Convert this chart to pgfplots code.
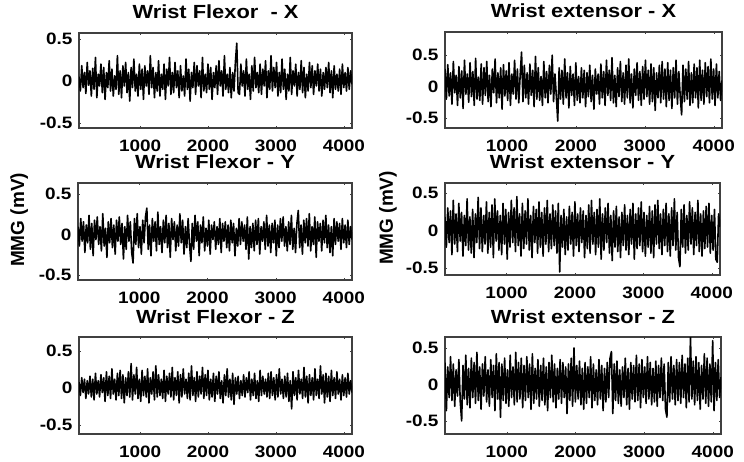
\documentclass[border=0pt]{standalone}
\usepackage{fontspec}
\setmainfont{Liberation Sans}[FakeStretch=1.15]
\newfontfamily\lblfont{Liberation Sans}
\usepackage{pgfplots}
\pgfplotsset{compat=1.18}

\pgfplotsset{mmg/.style={
    scale only axis, width=273pt, height=95pt, anchor=south west,
    xmin=100, xmax=4120,
    xtick={1000,2000,3000,4000}, xticklabels={1000,2000,3000,4000},
    ytick={-0.5,0,0.5}, yticklabels={-0.5,0,0.5},
    axis line style={black!75, line width=1.1pt},
    tick style={black!75}, major tick length=2pt, tick align=inside,
    ticklabel style={font=\bfseries\fontsize{16.5}{18}\selectfont},
    xticklabel style={yshift=-8pt},
    yticklabel style={xshift=-3pt},
    title style={font=\bfseries\fontsize{19}{21}\selectfont, anchor=base, at={(0.5,1)}, yshift=8pt},
    ylabel style={anchor=center, font=\lblfont\bfseries\fontsize{19}{21}\selectfont},
}, sigline/.style={draw=black, line width=1.6pt, line join=round, no marks}}
\pgfkeys{/pgfplots/table/sig/.style={x expr=\coordindex*20.2+100, y=y, row sep=\\}}

\begin{document}
\begin{tikzpicture}
\useasboundingbox (0,0) rectangle (744pt,461pt);

% flexor X
\begin{axis}[mmg, at={(79pt,333pt)}, ymin=-0.56, ymax=0.57, title={Wrist Flexor~ - X}]
\addplot[sigline] table[sig] {y\\
0.05\\ -0.12\\ 0.18\\ -0.08\\ 0.10\\ -0.15\\ 0.22\\ -0.05\\ 0.12\\ -0.18\\
0.15\\ -0.10\\ 0.28\\ -0.20\\ 0.08\\ -0.06\\ 0.20\\ -0.14\\ 0.16\\ -0.22\\
0.10\\ -0.08\\ 0.24\\ -0.12\\ 0.14\\ -0.18\\ 0.06\\ -0.10\\ 0.30\\ -0.16\\
0.12\\ -0.20\\ 0.18\\ -0.06\\ 0.22\\ -0.14\\ 0.10\\ -0.24\\ 0.16\\ -0.08\\
0.26\\ -0.12\\ 0.08\\ -0.18\\ 0.20\\ -0.10\\ 0.14\\ -0.22\\ 0.18\\ -0.06\\
0.12\\ -0.16\\ 0.30\\ -0.08\\ 0.16\\ -0.20\\ 0.10\\ -0.12\\ 0.24\\ -0.18\\
0.08\\ -0.10\\ 0.20\\ -0.22\\ 0.14\\ -0.06\\ 0.28\\ -0.16\\ 0.10\\ -0.14\\
0.22\\ -0.08\\ 0.12\\ -0.20\\ 0.18\\ -0.12\\ 0.06\\ -0.18\\ 0.26\\ -0.10\\
0.14\\ -0.24\\ 0.10\\ -0.08\\ 0.22\\ -0.16\\ 0.18\\ -0.06\\ 0.12\\ -0.20\\
0.28\\ -0.12\\ 0.08\\ -0.14\\ 0.20\\ -0.10\\ 0.16\\ -0.22\\ 0.10\\ -0.08\\
0.18\\ -0.16\\ 0.24\\ -0.06\\ 0.12\\ -0.18\\ 0.30\\ -0.10\\ 0.08\\ -0.14\\
0.16\\ -0.20\\ 0.10\\ -0.12\\ 0.22\\ 0.45\\ -0.14\\ -0.16\\ 0.20\\ -0.06\\
0.12\\ -0.18\\ 0.26\\ -0.10\\ 0.08\\ -0.22\\ 0.18\\ -0.12\\ 0.28\\ -0.08\\
0.10\\ -0.14\\ 0.20\\ -0.16\\ 0.14\\ -0.06\\ 0.24\\ -0.20\\ 0.12\\ -0.10\\
0.30\\ -0.12\\ 0.16\\ -0.08\\ 0.22\\ -0.18\\ 0.10\\ -0.14\\ 0.26\\ -0.10\\
0.14\\ -0.22\\ 0.08\\ -0.12\\ 0.28\\ -0.16\\ 0.12\\ -0.06\\ 0.20\\ -0.18\\
0.10\\ -0.10\\ 0.24\\ -0.14\\ 0.16\\ -0.20\\ 0.08\\ -0.12\\ 0.22\\ -0.08\\
0.18\\ -0.16\\ 0.12\\ -0.06\\ 0.20\\ -0.12\\ 0.14\\ -0.18\\ 0.10\\ -0.10\\
0.16\\ -0.08\\ 0.22\\ -0.14\\ 0.12\\ -0.20\\ 0.18\\ -0.10\\ 0.08\\ -0.12\\
0.14\\ -0.16\\ 0.20\\ -0.08\\ 0.10\\ -0.12\\ 0.16\\ -0.10\\ 0.12\\ -0.04\\
};
\end{axis}

% extensor X
\begin{axis}[mmg, at={(445pt,333pt)}, width=277pt, height=96pt, ymin=-0.66, ymax=0.87, title={Wrist extensor - X}]
\addplot[sigline] table[sig] {y\\
0.28\\ -0.20\\ 0.35\\ -0.15\\ 0.22\\ -0.28\\ 0.40\\ -0.10\\ 0.18\\ -0.30\\
0.32\\ -0.18\\ 0.25\\ -0.35\\ 0.42\\ -0.12\\ 0.20\\ -0.25\\ 0.38\\ -0.16\\
0.24\\ -0.30\\ 0.45\\ -0.20\\ 0.15\\ -0.22\\ 0.36\\ -0.28\\ 0.30\\ -0.14\\
0.40\\ -0.24\\ 0.18\\ -0.32\\ 0.28\\ -0.10\\ 0.44\\ -0.26\\ 0.22\\ -0.18\\
0.30\\ -0.36\\ 0.35\\ -0.15\\ 0.25\\ -0.22\\ 0.38\\ -0.30\\ 0.20\\ -0.12\\
0.42\\ -0.20\\ 0.28\\ -0.26\\ 0.18\\ 0.55\\ -0.24\\ 0.34\\ -0.18\\ 0.22\\
-0.28\\ 0.36\\ -0.14\\ 0.26\\ -0.32\\ 0.48\\ -0.20\\ 0.30\\ -0.22\\ 0.16\\
-0.30\\ 0.40\\ -0.18\\ 0.24\\ -0.26\\ 0.34\\ -0.12\\ 0.50\\ -0.24\\ 0.20\\
-0.16\\ -0.55\\ 0.30\\ -0.20\\ 0.26\\ -0.28\\ 0.44\\ -0.18\\ 0.22\\ -0.34\\
0.32\\ -0.14\\ 0.20\\ -0.30\\ 0.38\\ -0.22\\ 0.16\\ -0.26\\ 0.30\\ -0.18\\
0.26\\ -0.32\\ 0.22\\ -0.16\\ 0.34\\ -0.24\\ 0.18\\ -0.36\\ 0.28\\ -0.12\\
0.20\\ -0.28\\ 0.36\\ -0.18\\ 0.24\\ -0.30\\ 0.42\\ -0.14\\ 0.26\\ -0.22\\
0.46\\ -0.26\\ 0.18\\ -0.32\\ 0.30\\ -0.16\\ 0.40\\ -0.24\\ 0.22\\ -0.28\\
0.34\\ -0.18\\ 0.44\\ -0.26\\ 0.20\\ -0.34\\ 0.28\\ -0.14\\ 0.38\\ -0.22\\
0.24\\ -0.30\\ 0.32\\ -0.20\\ 0.42\\ -0.16\\ 0.26\\ -0.28\\ 0.36\\ -0.24\\
0.30\\ -0.38\\ 0.22\\ -0.18\\ 0.34\\ -0.26\\ 0.40\\ -0.20\\ 0.28\\ -0.32\\
0.38\\ -0.22\\ 0.26\\ -0.35\\ 0.30\\ -0.18\\ 0.42\\ -0.28\\ 0.24\\ -0.16\\
-0.45\\ 0.34\\ -0.24\\ 0.28\\ -0.20\\ 0.40\\ -0.30\\ 0.22\\ -0.26\\ 0.36\\
-0.18\\ 0.30\\ -0.34\\ 0.42\\ -0.22\\ 0.26\\ -0.28\\ 0.38\\ -0.16\\ 0.32\\
-0.26\\ 0.44\\ -0.20\\ 0.28\\ -0.30\\ 0.36\\ -0.18\\ 0.24\\ -0.22\\ 0.10\\
};
\end{axis}

% flexor Y
\begin{axis}[mmg, at={(78pt,181pt)}, width=274pt, height=97pt, ymin=-0.56, ymax=0.64, title={Wrist Flexor - Y},
  ylabel={MMG (mV)}, ylabel style={at={(axis description cs:-0.215,0.62)}}]
\addplot[sigline] table[sig] {y\\
0.10\\ -0.14\\ 0.20\\ -0.08\\ 0.16\\ -0.22\\ 0.12\\ -0.10\\ 0.24\\ -0.18\\
0.14\\ -0.26\\ 0.18\\ -0.06\\ 0.22\\ -0.12\\ 0.10\\ -0.20\\ 0.26\\ -0.14\\
0.08\\ -0.28\\ 0.16\\ -0.10\\ 0.20\\ -0.16\\ 0.12\\ -0.24\\ 0.18\\ -0.08\\
0.22\\ -0.12\\ 0.14\\ -0.30\\ 0.10\\ -0.18\\ 0.24\\ -0.08\\ 0.16\\ -0.22\\
-0.35\\ 0.20\\ -0.12\\ 0.26\\ -0.16\\ 0.10\\ -0.24\\ 0.18\\ -0.10\\ 0.22\\
0.33\\ -0.18\\ 0.12\\ -0.26\\ 0.20\\ -0.08\\ 0.16\\ -0.20\\ 0.28\\ -0.12\\
0.10\\ -0.22\\ 0.18\\ -0.10\\ 0.24\\ -0.16\\ 0.14\\ -0.28\\ 0.20\\ -0.06\\
0.16\\ -0.20\\ 0.12\\ -0.14\\ 0.26\\ -0.10\\ 0.18\\ -0.24\\ 0.10\\ -0.16\\
0.20\\ -0.12\\ -0.33\\ 0.14\\ -0.18\\ 0.24\\ -0.08\\ 0.16\\ -0.26\\ 0.12\\
-0.10\\ 0.22\\ -0.20\\ 0.08\\ -0.14\\ 0.18\\ -0.24\\ 0.12\\ -0.06\\ 0.16\\
-0.18\\ 0.10\\ -0.12\\ 0.20\\ -0.22\\ 0.14\\ -0.08\\ 0.16\\ -0.16\\ 0.12\\
-0.20\\ 0.18\\ -0.10\\ 0.14\\ -0.26\\ 0.08\\ -0.14\\ 0.20\\ -0.12\\ 0.16\\
-0.08\\ 0.12\\ -0.18\\ 0.22\\ -0.30\\ 0.10\\ -0.16\\ 0.14\\ -0.20\\ 0.18\\
-0.12\\ 0.20\\ -0.24\\ 0.10\\ -0.08\\ 0.16\\ -0.18\\ 0.24\\ -0.14\\ 0.12\\
-0.22\\ 0.14\\ -0.10\\ 0.18\\ -0.26\\ 0.12\\ -0.16\\ 0.20\\ -0.08\\ 0.22\\
-0.14\\ 0.10\\ -0.20\\ 0.16\\ -0.12\\ 0.24\\ -0.18\\ 0.08\\ -0.22\\ 0.14\\
0.30\\ -0.16\\ 0.12\\ -0.24\\ 0.18\\ -0.10\\ 0.20\\ -0.14\\ 0.26\\ -0.20\\
0.10\\ -0.12\\ 0.22\\ -0.28\\ 0.16\\ -0.08\\ 0.14\\ -0.20\\ 0.18\\ -0.10\\
0.24\\ -0.16\\ 0.12\\ -0.22\\ 0.10\\ -0.26\\ 0.20\\ -0.12\\ 0.16\\ -0.08\\
0.14\\ -0.18\\ 0.20\\ -0.10\\ 0.12\\ -0.16\\ 0.18\\ -0.12\\ 0.10\\ -0.06\\
};
\end{axis}

% extensor Y
\begin{axis}[mmg, at={(445pt,186pt)}, width=275pt, height=92pt, ymin=-0.59, ymax=0.63, title={Wrist extensor - Y},
  ylabel={MMG (mV)}, ylabel style={at={(axis description cs:-0.207,0.62)}}]
\addplot[sigline] table[sig] {y\\
0.18\\ -0.22\\ 0.30\\ -0.16\\ 0.26\\ -0.32\\ 0.40\\ -0.18\\ 0.22\\ -0.28\\
0.36\\ -0.14\\ 0.24\\ -0.34\\ 0.20\\ -0.20\\ 0.42\\ -0.26\\ 0.18\\ -0.30\\
0.28\\ -0.36\\ 0.22\\ -0.16\\ 0.44\\ -0.24\\ 0.30\\ -0.28\\ 0.20\\ -0.18\\
0.38\\ -0.30\\ 0.24\\ -0.22\\ 0.34\\ -0.36\\ 0.42\\ -0.14\\ 0.26\\ -0.26\\
0.20\\ -0.32\\ 0.36\\ -0.18\\ 0.28\\ -0.38\\ 0.24\\ -0.22\\ 0.40\\ -0.16\\
0.30\\ -0.28\\ 0.45\\ -0.20\\ 0.22\\ -0.34\\ 0.36\\ -0.24\\ 0.26\\ -0.18\\
0.42\\ -0.26\\ 0.20\\ -0.36\\ 0.32\\ -0.16\\ 0.28\\ -0.30\\ 0.38\\ -0.22\\
0.24\\ -0.34\\ 0.30\\ -0.18\\ 0.40\\ -0.28\\ 0.22\\ -0.24\\ 0.34\\ -0.20\\
0.26\\ -0.30\\ 0.36\\ -0.55\\ 0.20\\ -0.22\\ 0.28\\ -0.32\\ 0.18\\ -0.26\\
0.32\\ -0.18\\ 0.24\\ -0.34\\ 0.38\\ -0.20\\ 0.22\\ -0.28\\ 0.30\\ -0.16\\
0.26\\ -0.36\\ 0.20\\ -0.24\\ 0.34\\ -0.30\\ 0.40\\ -0.18\\ 0.24\\ -0.32\\
0.28\\ -0.22\\ 0.42\\ -0.38\\ 0.22\\ -0.26\\ 0.30\\ -0.16\\ 0.36\\ -0.30\\
0.20\\ -0.40\\ 0.26\\ -0.22\\ 0.32\\ -0.28\\ 0.18\\ -0.36\\ 0.24\\ -0.20\\
0.34\\ -0.26\\ 0.20\\ -0.32\\ 0.28\\ -0.18\\ 0.36\\ -0.38\\ 0.22\\ -0.24\\
0.30\\ -0.20\\ 0.38\\ -0.28\\ 0.24\\ -0.34\\ 0.20\\ -0.22\\ 0.32\\ -0.30\\
0.26\\ -0.36\\ 0.34\\ -0.18\\ 0.40\\ -0.24\\ 0.22\\ -0.32\\ 0.28\\ -0.20\\
0.36\\ -0.28\\ 0.22\\ -0.34\\ 0.30\\ -0.20\\ 0.42\\ -0.26\\ 0.24\\ -0.36\\
-0.48\\ 0.28\\ -0.22\\ 0.34\\ -0.30\\ 0.20\\ -0.26\\ 0.38\\ -0.18\\ 0.30\\
-0.32\\ 0.24\\ -0.20\\ 0.40\\ -0.28\\ 0.22\\ -0.34\\ 0.26\\ -0.24\\ 0.32\\
-0.22\\ 0.36\\ -0.30\\ 0.20\\ -0.26\\ 0.28\\ -0.38\\ -0.42\\ 0.22\\ 0.05\\
};
\end{axis}

% flexor Z
\begin{axis}[mmg, at={(79pt,27pt)}, height=97pt, ymin=-0.62, ymax=0.69, title={Wrist Flexor - Z}]
\addplot[sigline] table[sig] {y\\
0.08\\ -0.10\\ 0.14\\ -0.06\\ 0.12\\ -0.14\\ 0.10\\ -0.08\\ 0.16\\ -0.12\\
0.12\\ -0.16\\ 0.20\\ -0.08\\ 0.10\\ -0.12\\ 0.18\\ -0.06\\ 0.14\\ -0.18\\
0.22\\ -0.10\\ 0.16\\ -0.14\\ 0.26\\ -0.08\\ 0.12\\ -0.16\\ 0.20\\ -0.10\\
0.24\\ -0.14\\ 0.18\\ -0.20\\ 0.14\\ -0.10\\ 0.22\\ -0.12\\ 0.33\\ -0.16\\
0.18\\ -0.08\\ 0.28\\ -0.14\\ 0.12\\ -0.18\\ 0.24\\ -0.10\\ 0.16\\ -0.12\\
0.26\\ -0.20\\ 0.14\\ -0.08\\ 0.22\\ -0.16\\ 0.30\\ -0.12\\ 0.18\\ -0.10\\
0.12\\ -0.14\\ 0.24\\ -0.18\\ 0.16\\ -0.08\\ 0.20\\ -0.12\\ 0.28\\ -0.16\\
0.14\\ -0.10\\ 0.22\\ -0.20\\ 0.18\\ -0.12\\ 0.26\\ -0.08\\ 0.12\\ -0.14\\
0.20\\ -0.16\\ 0.30\\ -0.10\\ 0.14\\ -0.18\\ 0.22\\ -0.12\\ 0.16\\ -0.08\\
0.28\\ -0.14\\ 0.18\\ -0.10\\ 0.24\\ -0.16\\ 0.12\\ -0.12\\ 0.20\\ -0.18\\
0.16\\ -0.08\\ 0.22\\ -0.14\\ 0.10\\ -0.20\\ 0.18\\ -0.10\\ 0.26\\ -0.12\\
0.12\\ -0.16\\ 0.20\\ -0.22\\ 0.14\\ -0.08\\ 0.16\\ -0.14\\ 0.10\\ -0.10\\
0.18\\ -0.12\\ 0.14\\ -0.06\\ 0.22\\ -0.16\\ 0.12\\ -0.10\\ 0.20\\ -0.14\\
0.10\\ -0.18\\ 0.24\\ -0.10\\ 0.16\\ -0.08\\ 0.12\\ -0.12\\ 0.20\\ -0.14\\
0.22\\ -0.10\\ 0.14\\ -0.16\\ 0.18\\ -0.12\\ 0.26\\ -0.08\\ 0.12\\ -0.14\\
0.16\\ -0.12\\ 0.20\\ -0.18\\ 0.10\\ -0.28\\ 0.22\\ -0.10\\ 0.14\\ -0.16\\
0.24\\ -0.08\\ 0.12\\ -0.14\\ 0.28\\ -0.12\\ 0.16\\ -0.20\\ 0.18\\ -0.10\\
0.14\\ -0.16\\ 0.26\\ -0.10\\ 0.12\\ -0.14\\ 0.30\\ -0.08\\ 0.18\\ -0.20\\
0.20\\ -0.12\\ 0.16\\ -0.18\\ 0.24\\ -0.10\\ 0.14\\ -0.14\\ 0.22\\ -0.08\\
0.12\\ -0.16\\ 0.18\\ -0.10\\ 0.14\\ -0.12\\ 0.20\\ -0.08\\ 0.10\\ -0.06\\
};
\end{axis}

% extensor Z
\begin{axis}[mmg, at={(445pt,27pt)}, width=276pt, height=97pt, ymin=-0.68, ymax=0.65, title={Wrist extensor - Z}]
\addplot[sigline] table[sig] {y\\
0.30\\ -0.36\\ 0.24\\ -0.18\\ 0.38\\ -0.22\\ 0.28\\ -0.30\\ 0.20\\ -0.16\\
0.34\\ -0.24\\ -0.50\\ 0.26\\ -0.20\\ 0.40\\ -0.28\\ 0.22\\ -0.32\\ 0.36\\
-0.18\\ 0.30\\ -0.26\\ 0.44\\ -0.22\\ 0.24\\ -0.34\\ 0.28\\ -0.16\\ 0.38\\
-0.24\\ 0.20\\ -0.30\\ 0.34\\ -0.18\\ 0.26\\ -0.36\\ 0.42\\ -0.20\\ 0.30\\
-0.45\\ 0.28\\ -0.22\\ 0.36\\ -0.26\\ 0.20\\ -0.30\\ 0.40\\ -0.18\\ 0.24\\
-0.28\\ 0.44\\ -0.24\\ 0.30\\ -0.20\\ 0.36\\ -0.32\\ 0.26\\ -0.22\\ 0.38\\
-0.18\\ 0.28\\ -0.34\\ 0.42\\ -0.26\\ 0.22\\ -0.20\\ 0.34\\ -0.30\\ 0.26\\
-0.22\\ 0.36\\ -0.28\\ 0.24\\ -0.36\\ 0.30\\ -0.18\\ 0.40\\ -0.24\\ 0.28\\
-0.32\\ 0.22\\ -0.20\\ 0.34\\ -0.26\\ 0.30\\ -0.18\\ 0.24\\ -0.40\\ 0.28\\
-0.22\\ 0.36\\ -0.30\\ 0.50\\ -0.24\\ 0.26\\ -0.20\\ 0.32\\ -0.28\\ 0.22\\
-0.34\\ 0.30\\ -0.26\\ 0.24\\ -0.18\\ 0.38\\ -0.32\\ 0.28\\ -0.22\\ 0.20\\
-0.28\\ 0.34\\ -0.20\\ 0.26\\ -0.36\\ 0.22\\ -0.24\\ 0.30\\ -0.18\\ 0.36\\
0.45\\ -0.40\\ 0.28\\ -0.22\\ 0.32\\ -0.26\\ 0.20\\ -0.30\\ 0.24\\ -0.18\\
0.36\\ -0.28\\ 0.22\\ -0.34\\ 0.30\\ -0.20\\ 0.26\\ -0.24\\ 0.40\\ -0.22\\
0.28\\ -0.32\\ 0.34\\ -0.18\\ 0.24\\ -0.26\\ 0.38\\ -0.20\\ 0.30\\ -0.28\\
0.22\\ -0.24\\ 0.32\\ -0.30\\ 0.26\\ -0.18\\ 0.36\\ -0.22\\ 0.28\\ -0.34\\
-0.45\\ 0.30\\ -0.24\\ 0.38\\ -0.20\\ 0.26\\ -0.28\\ 0.34\\ -0.22\\ 0.30\\
-0.26\\ 0.40\\ -0.18\\ 0.28\\ -0.32\\ 0.36\\ -0.24\\ 0.65\\ -0.20\\ 0.32\\
-0.28\\ 0.38\\ -0.22\\ 0.30\\ -0.34\\ 0.26\\ -0.20\\ 0.42\\ -0.26\\ 0.36\\
-0.30\\ 0.28\\ -0.24\\ 0.60\\ -0.36\\ 0.30\\ -0.22\\ 0.34\\ -0.18\\ 0.10\\
};
\end{axis}
\end{tikzpicture}
\end{document}
